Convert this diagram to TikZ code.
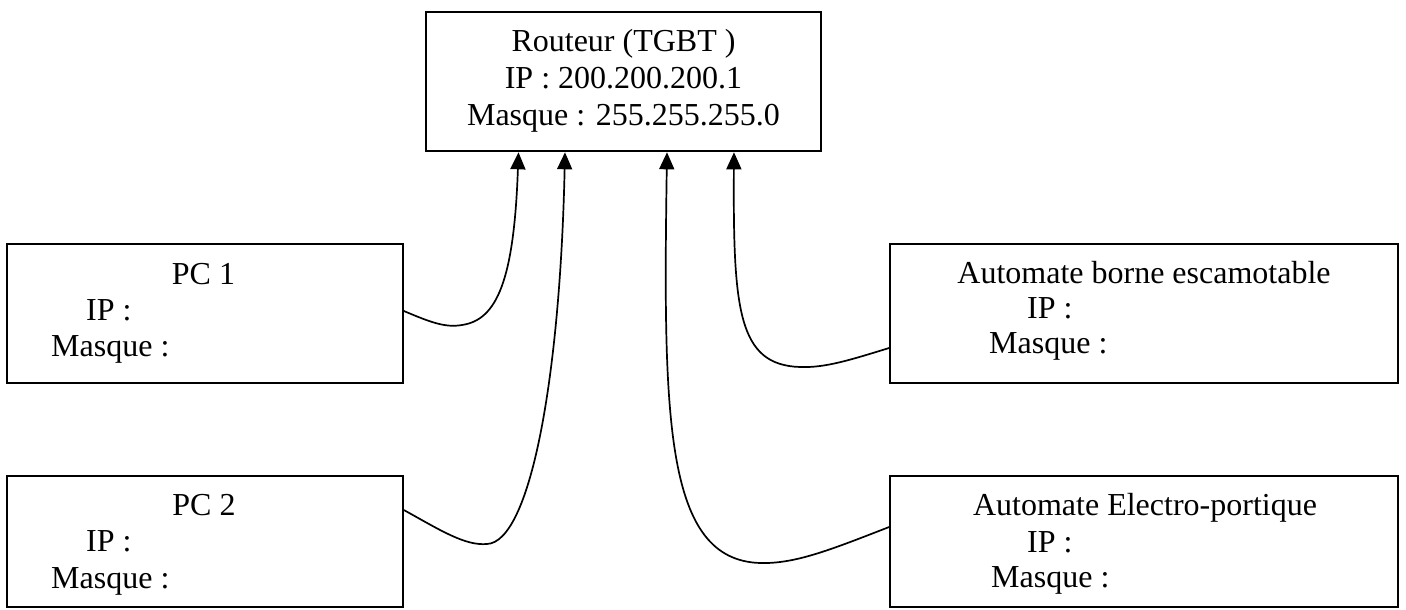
\documentclass[tikz,border=0pt]{standalone}
\usepackage{fontspec}
\setmainfont{Liberation Serif}
\usetikzlibrary{arrows.meta}
\begin{document}
\begin{tikzpicture}[x=1pt,y=-1pt,
  box/.style={draw=black,line width=1.7pt,rectangle,inner sep=0pt},
  txt/.style={inner sep=0pt,font=\fontsize{32}{37}\selectfont},
  link/.style={draw=black,line width=1.7pt,-{Triangle[width=15pt,length=17pt]}}]
\useasboundingbox[fill=white] (0,0) rectangle (1406,610);
% boxes
\node[box,line width=2.6pt,minimum width=395pt,minimum height=139pt] (router) at (623.5,81.5) {};
\node[box,minimum width=396pt,minimum height=139pt] (pc1) at (205,313.5) {};
\node[box,minimum width=396pt,minimum height=131pt] (pc2) at (205,541.5) {};
\node[box,minimum width=508pt,minimum height=139pt] (aut1) at (1144,313.5) {};
\node[box,minimum width=508pt,minimum height=131pt] (aut2) at (1144,541.5) {};
% texts
\node[txt,anchor=base] (r1) at (623.5,52) {Routeur (TGBT )};
\node[txt,anchor=base] (r2) at (623.5,88.5) {IP : 200.200.200.1};
\node[txt,anchor=base] (r3) at (623.5,125) {Masque : 255.255.255.0};
\node[txt,anchor=base] (p1a) at (203.5,284) {PC 1};
\node[txt,anchor=base west] (p1b) at (86,320) {IP :};
\node[txt,anchor=base west] (p1c) at (51,356) {Masque :};
\node[txt,anchor=base] (p2a) at (204,515) {PC 2};
\node[txt,anchor=base west] (p2b) at (86,551.5) {IP :};
\node[txt,anchor=base west] (p2c) at (51,588) {Masque :};
\node[txt,anchor=base] (a1a) at (1144,283) {Automate borne escamotable};
\node[txt,anchor=base west] (a1b) at (1027,318) {IP :};
\node[txt,anchor=base west] (a1c) at (989,353) {Masque :};
\node[txt,anchor=base] (a2a) at (1145,515) {Automate Electro-portique};
\node[txt,anchor=base west] (a2b) at (1027,552) {IP :};
\node[txt,anchor=base west] (a2c) at (991,587) {Masque :};
% connectors
\draw[link] ([yshift=2.5pt]pc1.east) .. controls (430,322) and (445,328) .. (462,325)
  .. controls (497,320) and (514,280) .. ([xshift=-105pt]router.south);
\draw[link] ([yshift=31.5pt]pc2.east) .. controls (440,530) and (465,546) .. (487,544)
  .. controls (530,542) and (560,380) .. ([xshift=-58.5pt]router.south);
\draw[link] ([yshift=-34.5pt]aut1.west) .. controls (850,360) and (825,368) .. (800,367)
  .. controls (738,365) and (733,310) .. ([xshift=110.5pt]router.south);
\draw[link] ([yshift=14.5pt]aut2.west) .. controls (830,550) and (795,564) .. (760,563)
  .. controls (665,560) and (663,420) .. ([xshift=43.5pt]router.south);
\end{tikzpicture}
\end{document}
